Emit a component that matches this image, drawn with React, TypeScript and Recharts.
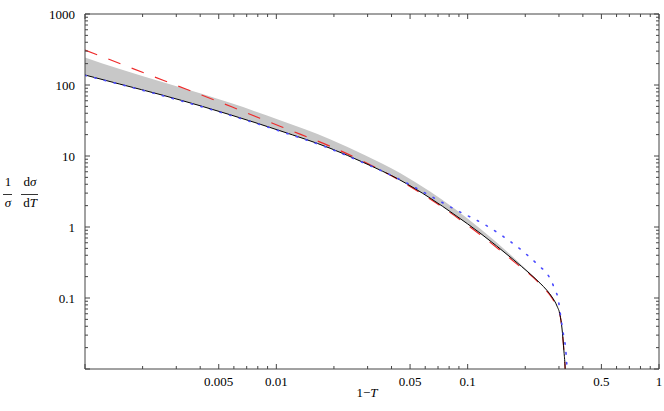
import React from "react";
import { ComposedChart, Line, Area, XAxis, YAxis } from "recharts";

// black solid curve (lower edge of the grey band)
const blackX = [0.001, 0.00152, 0.00256, 0.00399, 0.00572, 0.01045, 0.01908, 0.02908, 0.0443, 0.0636, 0.0859, 0.116, 0.1726, 0.212, 0.2388, 0.26, 0.2759, 0.293, 0.3039, 0.311, 0.3188, 0.3227, 0.3238];
const blackY = [138.3, 103, 71.6, 51.1, 38.2, 22.7, 12.88, 7.92, 4.59, 2.56, 1.476, 0.823, 0.35, 0.2185, 0.1622, 0.1275, 0.1033, 0.0772, 0.0576, 0.0378, 0.01736, 0.01102, 0.0088];

// red dashed curve
const redX = [0.001, 0.00256, 0.00584, 0.00821, 0.0133, 0.01908, 0.02908, 0.0443, 0.0636, 0.116, 0.1726, 0.2388, 0.2759, 0.293, 0.3039, 0.311, 0.3188, 0.3227, 0.3238];
const redY = [311, 116.5, 49.3, 34.0, 20.3, 13.74, 8.18, 4.52, 2.48, 0.784, 0.333, 0.1574, 0.1, 0.0747, 0.0576, 0.0378, 0.01736, 0.01102, 0.0088];

// blue dotted curve
const blueX = [0.001, 0.00256, 0.00572, 0.01045, 0.01908, 0.02908, 0.0443, 0.0542, 0.0841, 0.128, 0.1954, 0.2388, 0.259, 0.2749, 0.286, 0.298, 0.3039, 0.3101, 0.316, 0.3227, 0.3266, 0.3294, 0.3313];
const blueY = [136.6, 70.4, 37.6, 22.4, 12.7, 7.84, 4.66, 3.49, 1.82, 1.01, 0.449, 0.276, 0.223, 0.1697, 0.1297, 0.0938, 0.0641, 0.044, 0.0318, 0.023, 0.01663, 0.012, 0.0088];

// grey uncertainty band
const bandX = [0.001, 0.00152, 0.00256, 0.00399, 0.00584, 0.01045, 0.01908, 0.02908, 0.0443, 0.0636, 0.116, 0.1726, 0.212];
const bandLow = [138.3, 103, 71.6, 51.1, 37.4, 22.7, 12.88, 7.92, 4.59, 2.56, 0.823, 0.35, 0.2185];
const bandHigh = [243.9, 167.5, 109.2, 76.6, 55.2, 31.9, 17.25, 10.26, 5.76, 3.16, 0.953, 0.379, 0.2257];

const xTickLabels = [
  { v: 0.005, t: "0.005" },
  { v: 0.01, t: "0.01" },
  { v: 0.05, t: "0.05" },
  { v: 0.1, t: "0.1" },
  { v: 0.5, t: "0.5" },
  { v: 1, t: "1" },
];
const yTickLabels = [
  { v: 0.1, t: "0.1" },
  { v: 1, t: "1" },
  { v: 10, t: "10" },
  { v: 100, t: "100" },
  { v: 1000, t: "1000" },
];

const logTicks = (from: number, to: number) => {
  const out: number[] = [];
  for (let e = from; e < to; e++) {
    for (let k = 1; k <= 9; k++) out.push(Number((k * Math.pow(10, e)).toPrecision(6)));
  }
  out.push(Math.pow(10, to));
  return out;
};
const xTicks = logTicks(-3, 0);
const yTicks = logTicks(-2, 3);

const same = (a: number, b: number) => Math.abs(Math.log10(a) - Math.log10(b)) < 1e-6;
const isDecade = (v: number) => Math.abs(Math.log10(v) - Math.round(Math.log10(v))) < 1e-6;
const findLabel = (list: { v: number; t: string }[], v: number) => list.find((l) => same(l.v, v));

const FONT = "Liberation Serif, Times New Roman, Times, serif";
const FRAME = "#444";
const txt = { fontFamily: FONT, fontSize: 13 };

const BottomTick = (props: any) => {
  const { x, y, payload } = props;
  const lab = findLabel(xTickLabels, payload.value);
  const len = lab || isDecade(payload.value) ? 5 : 3;
  return (
    <g>
      <line x1={x} x2={x} y1={y} y2={y - len} stroke={FRAME} strokeWidth={1} />
      {lab && (
        <text x={x} y={y + 17} textAnchor="middle" style={txt} fill="#000">
          {lab.t}
        </text>
      )}
    </g>
  );
};

const TopTick = (props: any) => {
  const { x, y, payload } = props;
  const len = findLabel(xTickLabels, payload.value) || isDecade(payload.value) ? 5 : 3;
  return <line x1={x} x2={x} y1={y} y2={y + len} stroke={FRAME} strokeWidth={1} />;
};

const LeftTick = (props: any) => {
  const { x, y, payload } = props;
  const lab = findLabel(yTickLabels, payload.value);
  const len = lab || isDecade(payload.value) ? 5 : 3;
  return (
    <g>
      <line x1={x} x2={x + len} y1={y} y2={y} stroke={FRAME} strokeWidth={1} />
      {lab && (
        <text x={x - 10} y={y + 4.5} textAnchor="end" style={txt} fill="#000">
          {lab.t}
        </text>
      )}
    </g>
  );
};

const RightTick = (props: any) => {
  const { x, y, payload } = props;
  const len = findLabel(yTickLabels, payload.value) || isDecade(payload.value) ? 5 : 3;
  return <line x1={x} x2={x - len} y1={y} y2={y} stroke={FRAME} strokeWidth={1} />;
};

export default function App() {
  const black = blackX.map((x, i) => ({ x, y: blackY[i] }));
  const red = redX.map((x, i) => ({ x, y: redY[i] }));
  const blue = blueX.map((x, i) => ({ x, y: blueY[i] }));
  const band = bandX.map((x, i) => ({ x, band: [bandLow[i], bandHigh[i]] }));

  const axisCommon = {
    type: "number" as const,
    scale: "log" as const,
    allowDataOverflow: true,
    interval: 0 as const,
    tickSize: 0,
    tickMargin: 0,
    tickLine: false,
    axisLine: { stroke: FRAME },
  };

  return (
    <div style={{ position: "absolute", left: 0, top: 0, width: 664, height: 411, background: "#fff" }}>
      <ComposedChart width={664} height={411} margin={{ top: 13, right: 4, bottom: 12, left: 25 }}>
        <XAxis xAxisId="b" dataKey="x" domain={[0.001, 1]} ticks={xTicks} height={30} tick={<BottomTick />} {...axisCommon} />
        <XAxis xAxisId="t" orientation="top" dataKey="x" domain={[0.001, 1]} ticks={xTicks} height={1} tick={<TopTick />} {...axisCommon} />
        <YAxis yAxisId="l" domain={[0.01, 1000]} ticks={yTicks} width={60} tick={<LeftTick />} {...axisCommon} />
        <YAxis yAxisId="r" orientation="right" domain={[0.01, 1000]} ticks={yTicks} width={1} tick={<RightTick />} {...axisCommon} />
        <Area
          xAxisId="b"
          yAxisId="l"
          data={band}
          dataKey="band"
          type="monotone"
          fill="#c8c8c8"
          fillOpacity={1}
          stroke="none"
          isAnimationActive={false}
          activeDot={false}
        />
        <Line
          xAxisId="b"
          yAxisId="l"
          data={red}
          dataKey="y"
          type="monotone"
          stroke="#ee2a2a"
          strokeWidth={1.2}
          strokeDasharray="13 12"
          dot={false}
          activeDot={false}
          isAnimationActive={false}
        />
        <Line
          xAxisId="b"
          yAxisId="l"
          data={black}
          dataKey="y"
          type="monotone"
          stroke="#000"
          strokeWidth={1}
          dot={false}
          activeDot={false}
          isAnimationActive={false}
        />
        <Line
          xAxisId="b"
          yAxisId="l"
          data={blue}
          dataKey="y"
          type="monotone"
          stroke="#4a4aff"
          strokeWidth={1.6}
          strokeDasharray="1.4 8.6"
          strokeLinecap="round"
          dot={false}
          activeDot={false}
          isAnimationActive={false}
        />
        {/* invisible copy so the mirrored top/right frame axes get a domain */}
        <Line
          xAxisId="t"
          yAxisId="r"
          data={black}
          dataKey="y"
          stroke="none"
          dot={false}
          activeDot={false}
          isAnimationActive={false}
        />
      </ComposedChart>
      <svg width={664} height={411} style={{ position: "absolute", left: 0, top: 0, pointerEvents: "none" }}>
        <g style={txt} fill="#000">
          <text x={8} y={186} textAnchor="middle">1</text>
          <line x1={3} x2={12} y1={194.5} y2={194.5} stroke="#000" strokeWidth={0.8} />
          <text x={8} y={207} textAnchor="middle" fontStyle="italic">σ</text>
          <text x={30} y={186} textAnchor="middle">
            d<tspan fontStyle="italic">σ</tspan>
          </text>
          <line x1={21} x2={38} y1={194.5} y2={194.5} stroke="#000" strokeWidth={0.8} />
          <text x={30} y={207} textAnchor="middle">
            d<tspan fontStyle="italic">T</tspan>
          </text>
          <text x={367} y={397} textAnchor="middle">
            1−<tspan fontStyle="italic">T</tspan>
          </text>
        </g>
      </svg>
    </div>
  );
}
